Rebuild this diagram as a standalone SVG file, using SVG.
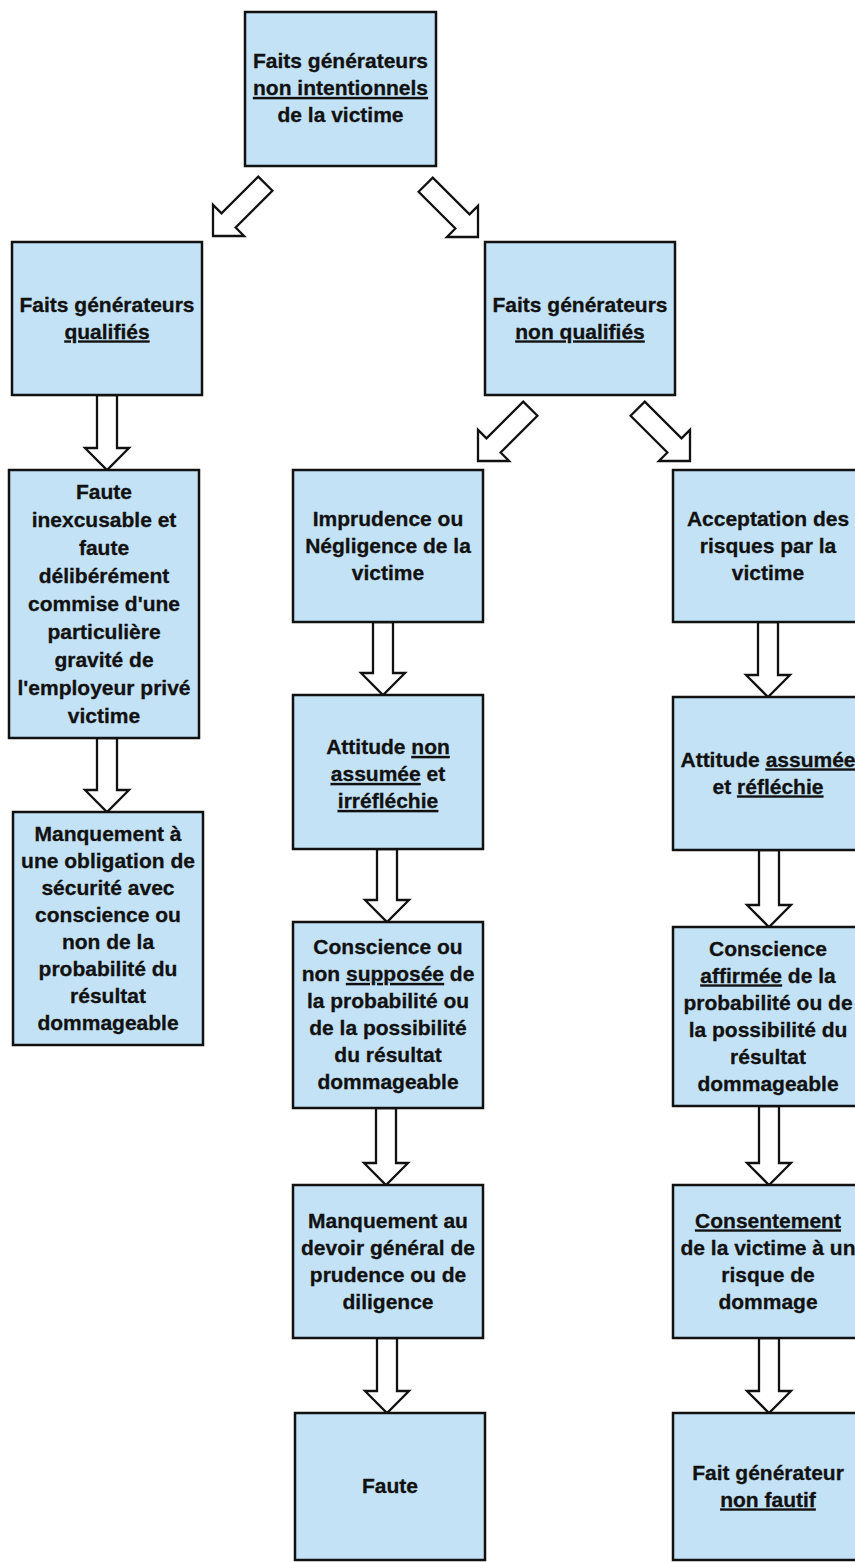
<svg xmlns="http://www.w3.org/2000/svg" xmlns:xlink="http://www.w3.org/1999/xlink" width="855" height="1562" viewBox="0 0 855 1562">
<style>
.box{fill:#c4e2f5;stroke:#111;stroke-width:2.5}
.arr{fill:#fff;stroke:#111;stroke-width:2.3;stroke-linejoin:miter}
.t{font-family:"Liberation Sans",Arial,sans-serif;font-weight:bold;font-size:21px;fill:#111;stroke:#111;stroke-width:0.3;text-anchor:middle}
.u{text-decoration:underline}
</style>
<defs>
<path id="darr" d="M-10,-74 L10,-74 L10,-22 L22,-22 L0,0 L-22,-22 L-10,-22 Z"/>
</defs>
<rect width="855" height="1562" fill="#fff"/>
<g id="connectors" class="arr">
<use xlink:href="#darr" transform="translate(213,236) rotate(45)"/>
<use xlink:href="#darr" transform="translate(478,237) rotate(-45)"/>
<use xlink:href="#darr" transform="translate(478,461) rotate(45)"/>
<use xlink:href="#darr" transform="translate(690,461) rotate(-45)"/>
<polygon points="97,395 117,395 117,448 129,448 107,470 85,448 97,448"/>
<polygon points="97,738 117,738 117,790 129,790 107,812 85,790 97,790"/>
<polygon points="373,622 393,622 393,673 405,673 383,695 361,673 373,673"/>
<polygon points="377,849 397,849 397,900 409,900 387,922 365,900 377,900"/>
<polygon points="376,1108 396,1108 396,1163 408,1163 386,1185 364,1163 376,1163"/>
<polygon points="377,1338 397,1338 397,1391 409,1391 387,1413 365,1391 377,1391"/>
<polygon points="758,622 778,622 778,675 790,675 768,697 746,675 758,675"/>
<polygon points="759,850 779,850 779,905 791,905 769,927 747,905 759,905"/>
<polygon points="759,1106 779,1106 779,1163 791,1163 769,1185 747,1163 759,1163"/>
<polygon points="759,1338 779,1338 779,1391 791,1391 769,1413 747,1391 759,1391"/>
</g>
<g id="n-top">
<rect class="box" x="245" y="12" width="191" height="154"/>
<text class="t" x="340.5" y="68">Faits générateurs</text>
<text class="t" x="340.5" y="95"><tspan class="u">non intentionnels</tspan></text>
<text class="t" x="340.5" y="122">de la victime</text>
</g>
<g id="n-qualifies">
<rect class="box" x="12" y="242" width="190" height="153"/>
<text class="t" x="107" y="311.5">Faits générateurs</text>
<text class="t" x="107" y="338.5"><tspan class="u">qualifiés</tspan></text>
</g>
<g id="n-nonqualifies">
<rect class="box" x="485" y="242" width="190" height="153"/>
<text class="t" x="580" y="311.5">Faits générateurs</text>
<text class="t" x="580" y="338.5"><tspan class="u">non qualifiés</tspan></text>
</g>
<g id="n-faute-inexcusable">
<rect class="box" x="9" y="470" width="190" height="268"/>
<text class="t" x="104" y="498.5">Faute</text>
<text class="t" x="104" y="526.5">inexcusable et</text>
<text class="t" x="104" y="554.5">faute</text>
<text class="t" x="104" y="582.5">délibérément</text>
<text class="t" x="104" y="610.5">commise d'une</text>
<text class="t" x="104" y="638.5">particulière</text>
<text class="t" x="104" y="666.5">gravité de</text>
<text class="t" x="104" y="694.5">l'employeur privé</text>
<text class="t" x="104" y="722.5">victime</text>
</g>
<g id="n-manquement-securite">
<rect class="box" x="13" y="812" width="190" height="233"/>
<text class="t" x="108" y="840.5">Manquement à</text>
<text class="t" x="108" y="867.5">une obligation de</text>
<text class="t" x="108" y="894.5">sécurité avec</text>
<text class="t" x="108" y="921.5">conscience ou</text>
<text class="t" x="108" y="948.5">non de la</text>
<text class="t" x="108" y="975.5">probabilité du</text>
<text class="t" x="108" y="1002.5">résultat</text>
<text class="t" x="108" y="1029.5">dommageable</text>
</g>
<g id="n-imprudence">
<rect class="box" x="293" y="470" width="190" height="152"/>
<text class="t" x="388" y="525.5">Imprudence ou</text>
<text class="t" x="388" y="552.5">Négligence de la</text>
<text class="t" x="388" y="579.5">victime</text>
</g>
<g id="n-attitude-non">
<rect class="box" x="293" y="695" width="190" height="154"/>
<text class="t" x="388" y="754">Attitude <tspan class="u">non</tspan></text>
<text class="t" x="388" y="781"><tspan class="u">assumée</tspan> et</text>
<text class="t" x="388" y="808"><tspan class="u">irréfléchie</tspan></text>
</g>
<g id="n-conscience-supposee">
<rect class="box" x="293" y="922" width="190" height="186"/>
<text class="t" x="388" y="954">Conscience ou</text>
<text class="t" x="388" y="981">non <tspan class="u">supposée</tspan> de</text>
<text class="t" x="388" y="1008">la probabilité ou</text>
<text class="t" x="388" y="1035">de la possibilité</text>
<text class="t" x="388" y="1062">du résultat</text>
<text class="t" x="388" y="1089">dommageable</text>
</g>
<g id="n-manquement-devoir">
<rect class="box" x="293" y="1185" width="190" height="153"/>
<text class="t" x="388" y="1227.5">Manquement au</text>
<text class="t" x="388" y="1254.5">devoir général de</text>
<text class="t" x="388" y="1281.5">prudence ou de</text>
<text class="t" x="388" y="1308.5">diligence</text>
</g>
<g id="n-faute">
<rect class="box" x="295" y="1413" width="190" height="147"/>
<text class="t" x="390" y="1493">Faute</text>
</g>
<g id="n-acceptation">
<rect class="box" x="673" y="470" width="190" height="152"/>
<text class="t" x="768" y="525.5">Acceptation des</text>
<text class="t" x="768" y="552.5">risques par la</text>
<text class="t" x="768" y="579.5">victime</text>
</g>
<g id="n-attitude-assumee">
<rect class="box" x="673" y="697" width="190" height="153"/>
<text class="t" x="768" y="766.5">Attitude <tspan class="u">assumée</tspan></text>
<text class="t" x="768" y="793.5">et <tspan class="u">réfléchie</tspan></text>
</g>
<g id="n-conscience-affirmee">
<rect class="box" x="673" y="927" width="190" height="179"/>
<text class="t" x="768" y="955.5">Conscience</text>
<text class="t" x="768" y="982.5"><tspan class="u">affirmée</tspan> de la</text>
<text class="t" x="768" y="1009.5">probabilité ou de</text>
<text class="t" x="768" y="1036.5">la possibilité du</text>
<text class="t" x="768" y="1063.5">résultat</text>
<text class="t" x="768" y="1090.5">dommageable</text>
</g>
<g id="n-consentement">
<rect class="box" x="673" y="1185" width="190" height="153"/>
<text class="t" x="768" y="1227.5"><tspan class="u">Consentement</tspan></text>
<text class="t" x="768" y="1254.5">de la victime à un</text>
<text class="t" x="768" y="1281.5">risque de</text>
<text class="t" x="768" y="1308.5">dommage</text>
</g>
<g id="n-non-fautif">
<rect class="box" x="673" y="1413" width="190" height="147"/>
<text class="t" x="768" y="1479.5">Fait générateur</text>
<text class="t" x="768" y="1506.5"><tspan class="u">non fautif</tspan></text>
</g>
</svg>
